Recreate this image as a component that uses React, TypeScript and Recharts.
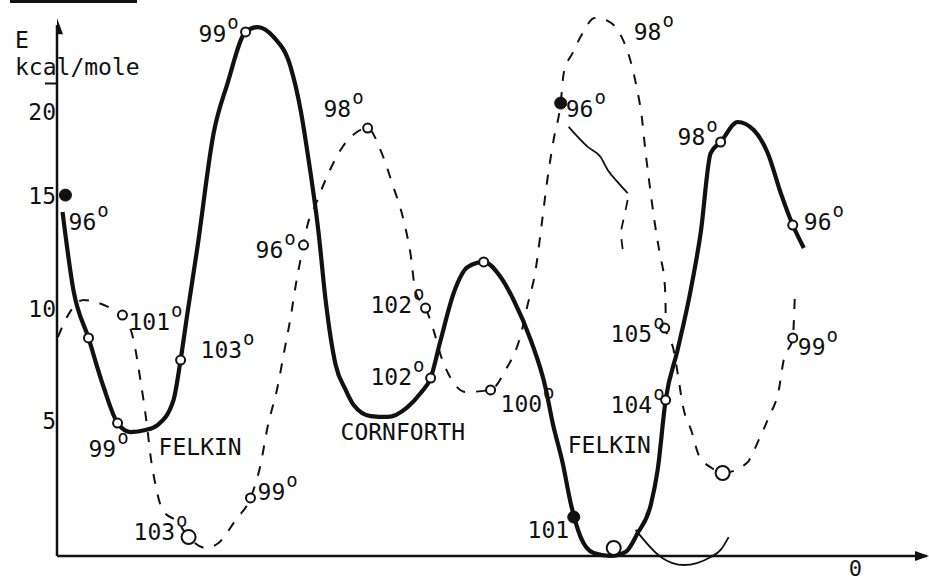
import React from "react";
import {
  ComposedChart,
  Line,
  Scatter,
  XAxis,
  YAxis,
  ReferenceLine,
} from "recharts";

// x = rotation angle (deg, 0 at the right), y = E (kcal/mole)
const solidCurve: [number, number][] = [
  [357.5, 14.29], [352.6, 10.82], [345.8, 8.69], [339.0, 6.51], [332.7, 4.91],
  [326.9, 4.51], [320.1, 4.6], [314.7, 4.82], [307.5, 5.93], [304.3, 7.71],
  [301.2, 9.8], [296.7, 12.73], [289.4, 17.8], [283.1, 20.02], [275.0, 22.29],
  [269.6, 22.51], [262.4, 22.07], [254.7, 20.73], [250.2, 18.82], [246.6, 16.6],
  [242.1, 13.36], [238.95, 10.38], [234.4, 7.49], [229.9, 6.38], [226.3, 5.71],
  [218.7, 5.22], [211.0, 5.18], [202.0, 5.62], [196.1, 6.24], [191.6, 6.91],
  [187.1, 8.6], [181.2, 10.69], [174.9, 11.84], [167.7, 12.07], [160.1, 11.4],
  [154.2, 10.38], [146.5, 8.6], [139.8, 6.47], [136.6, 4.91], [132.1, 3.13],
  [128.5, 1.36], [124.0, -0.16], [118.1, -0.87], [110.5, -1.0], [103.7, -0.82],
  [98.3, 0.02], [92.4, 1.27], [89.3, 2.82], [85.7, 5.93], [80.3, 8.16],
  [74.4, 10.82], [69.9, 13.36], [65.4, 16.91], [60.9, 17.4], [53.2, 18.29],
  [46.0, 17.93], [39.7, 16.91], [33.8, 15.13], [28.4, 13.71], [23.4, 12.69],
];

const dashedCurve: [number, number][] = [
  [359.6, 8.73], [354.2, 9.84], [348.1, 10.38], [342.7, 10.29], [335.9, 10.02],
  [330.5, 9.71], [325.5, 8.6], [322.4, 6.82], [319.2, 4.6], [317.9, 3.49],
  [315.6, 2.16], [312.4, 1.04], [305.7, 0.51], [300.7, -0.16], [293.1, -0.64],
  [287.2, -0.42], [279.5, 0.6], [272.8, 1.58], [268.3, 3.04], [265.1, 4.73],
  [260.6, 6.51], [257.9, 7.93], [254.7, 9.62], [252.0, 11.27], [248.9, 12.82],
  [247.1, 13.71], [243.5, 14.6], [239.0, 15.71], [231.3, 17.18], [225.4, 17.8],
  [220.0, 18.02], [214.2, 17.04], [208.7, 15.49], [203.8, 13.93], [200.6, 12.38],
  [198.4, 10.73], [193.9, 10.02], [190.3, 9.04], [187.1, 7.93], [182.6, 6.91],
  [175.8, 6.29], [164.6, 6.38], [157.8, 7.27], [151.0, 8.82], [147.9, 10.16],
  [144.3, 11.71], [141.6, 13.71], [138.9, 15.8], [136.2, 17.49], [133.0, 19.13],
  [131.6, 20.47], [127.6, 21.36], [123.1, 22.24], [117.7, 22.91], [111.8, 22.78],
  [106.0, 22.16], [101.4, 20.96], [98.7, 19.8], [96.5, 18.56], [94.7, 16.91],
  [92.9, 15.49], [90.6, 13.8], [88.4, 12.47], [86.1, 11.09], [85.7, 9.93],
  [85.7, 9.13], [82.1, 8.16], [79.8, 6.82], [78.0, 5.71], [73.9, 4.51],
  [70.8, 3.49], [64.9, 2.91], [60.0, 2.69], [49.1, 3.13], [43.7, 4.16],
  [39.2, 5.18], [34.7, 6.38], [32.5, 7.71], [28.4, 8.69], [27.5, 10.47],
];

const thinBranch: [number, number][] = [
  [129.4, 18.07], [120.8, 17.18], [115.0, 16.73], [111.8, 16.16], [107.3, 15.62], [102.8, 15.13],
];
const thinBranchDashed: [number, number][] = [
  [102.8, 14.82], [106.0, 13.36], [104.6, 12.29],
];
const bottomBranch: [number, number][] = [
  [99.2, 0.16], [87.9, -1.04], [77.5, -1.4], [65.4, -1.04], [60.9, -0.73], [57.3, -0.16],
];

const solidOpenPts: [number, number][] = [
  [345.8, 8.69], [332.7, 4.91], [304.3, 7.71], [275.0, 22.29], [191.6, 6.91],
  [167.7, 12.07], [85.7, 5.93], [60.9, 17.4], [28.4, 13.71],
];
const bigOpenPts: [number, number][] = [[109.1, -0.64], [300.7, -0.16], [60.0, 2.69]];
const dashedOpenPts: [number, number][] = [
  [330.5, 9.71], [272.8, 1.58], [248.9, 12.82], [220.0, 18.02], [193.9, 10.02],
  [164.6, 6.38], [86.1, 9.13], [28.4, 8.69],
];
const filledPts: [number, number][] = [[356.2, 15.04], [127.1, 0.73], [133.0, 19.13]];

// [x, E, text, superscript degree]
const labels: [number, number, string, boolean][] = [
  [354.8, 13.49, "96", true],
  [327.8, 9.04, "101", true],
  [295.3, 7.8, "103", true],
  [345.8, 3.4, "99", true],
  [314.2, 3.49, "FELKIN", false],
  [325.5, -0.29, "103", true],
  [269.6, 1.49, "99", true],
  [296.2, 21.84, "99", true],
  [239.9, 18.51, "98", true],
  [270.5, 12.24, "96", true],
  [218.7, 9.8, "102", true],
  [218.7, 6.6, "102", true],
  [232.2, 4.16, "CORNFORTH", false],
  [160.1, 5.4, "100", true],
  [129.8, 3.58, "FELKIN", false],
  [147.9, -0.2, "101", false],
  [130.7, 18.51, "96", true],
  [100.1, 21.93, "98", true],
  [80.3, 17.27, "98", true],
  [23.4, 13.49, "96", true],
  [110.5, 8.51, "105", true],
  [110.5, 5.36, "104", true],
  [26.1, 7.93, "99", true],
  [3.2, -1.9, "0", false],
];

const yTicks = [5, 10, 15, 20];

const toPts = (a: [number, number][]) => a.map(([x, y]) => ({ x, y }));
const labelData = labels.map(([x, y, text, sup]) => ({ x, y, text, sup }));

const FONT = "'DejaVu Sans Mono', monospace";
const INK = "#111";

const YTick = (props: any) => {
  const { y, payload } = props;
  const v = payload.value;
  const dy = v === 20 ? 36 : 8;
  return (
    <g>
      {v === 20 && <line x1={45} x2={57} y1={y} y2={y} stroke={INK} strokeWidth={2} />}
      <text x={56} y={y + dy} textAnchor="end" fontFamily={FONT} fontSize={23} fill={INK}>
        {v}
      </text>
    </g>
  );
};

const LabelShape = (props: any) => {
  const { cx, cy, payload } = props;
  return (
    <text x={cx} y={cy} fontFamily={FONT} fontSize={payload.text === "0" ? 22 : 23} fill={INK}>
      {payload.text}
      {payload.sup && (
        <tspan dx={1} dy={-13} fontSize={19}>
          o
        </tspan>
      )}
    </text>
  );
};

const OpenDot = (r: number) => (props: any) => (
  <circle cx={props.cx} cy={props.cy} r={r} fill="#fff" stroke={INK} strokeWidth={2} />
);
const FilledDot = (props: any) => (
  <circle cx={props.cx} cy={props.cy} r={6} fill={INK} stroke={INK} />
);
const UpArrow = (props: any) => (
  <path d={`M${props.cx},${props.cy} l-6,16 l12,0 z`} fill={INK} />
);
const RightArrow = (props: any) => (
  <path d={`M${props.cx},${props.cy} l-14,-5 l0,10 z`} fill={INK} />
);

const AxisTitle = () => (
  <g>
    <line x1={10} x2={137} y1={1.5} y2={1.5} stroke={INK} strokeWidth={3} />
    <text x={15} y={48} fontFamily={FONT} fontSize={23} fill={INK}>E</text>
    <text x={15} y={75} fontFamily={FONT} fontSize={23} fill={INK}>kcal/mole</text>
  </g>
);

export default function App() {
  return (
    <div style={{ position: "absolute", left: 0, top: 0, width: 929, height: 583, background: "#fff" }}>
      <ComposedChart width={929} height={583} margin={{ top: 16, right: 0, bottom: 0, left: 0 }}>
        <XAxis
          type="number"
          dataKey="x"
          domain={[-33, 360]}
          reversed
          hide
          allowDataOverflow
        />
        <YAxis
          type="number"
          domain={[-2.2, 23]}
          ticks={yTicks}
          width={57}
          axisLine={false}
          tickLine={false}
          tick={<YTick />}
          allowDataOverflow
          label={{ content: () => <AxisTitle /> }}
        />
        <ReferenceLine
          segment={[{ x: 360, y: -1 }, { x: 360, y: 22.6 }]}
          stroke={INK}
          strokeWidth={2.5}
          ifOverflow="visible"
        />
        <ReferenceLine
          segment={[{ x: 360, y: -1 }, { x: -32, y: -1 }]}
          stroke={INK}
          strokeWidth={2.5}
          ifOverflow="visible"
        />
        <Line
          data={toPts(dashedCurve)}
          dataKey="y"
          type="monotone"
          stroke={INK}
          strokeWidth={2}
          strokeDasharray="10 11"
          dot={false}
          activeDot={false}
          isAnimationActive={false}
        />
        <Line
          data={toPts(thinBranch)}
          dataKey="y"
          type="monotone"
          stroke={INK}
          strokeWidth={1.8}
          dot={false}
          activeDot={false}
          isAnimationActive={false}
        />
        <Line
          data={toPts(thinBranchDashed)}
          dataKey="y"
          type="linear"
          stroke={INK}
          strokeWidth={1.8}
          strokeDasharray="10 10"
          dot={false}
          activeDot={false}
          isAnimationActive={false}
        />
        <Line
          data={toPts(bottomBranch)}
          dataKey="y"
          type="monotone"
          stroke={INK}
          strokeWidth={1.8}
          dot={false}
          activeDot={false}
          isAnimationActive={false}
        />
        <Line
          data={toPts(solidCurve)}
          dataKey="y"
          type="monotone"
          stroke={INK}
          strokeWidth={4.2}
          dot={false}
          activeDot={false}
          isAnimationActive={false}
        />
        <Scatter data={toPts(solidOpenPts)} dataKey="y" shape={OpenDot(4.5)} isAnimationActive={false} />
        <Scatter data={toPts(dashedOpenPts)} dataKey="y" shape={OpenDot(4.5)} isAnimationActive={false} />
        <Scatter data={toPts(bigOpenPts)} dataKey="y" shape={OpenDot(7)} isAnimationActive={false} />
        <Scatter data={toPts(filledPts)} dataKey="y" shape={FilledDot} isAnimationActive={false} />
        <Scatter data={[{ x: 360, y: 22.9 }]} dataKey="y" shape={UpArrow} isAnimationActive={false} />
        <Scatter data={[{ x: -33, y: -1 }]} dataKey="y" shape={RightArrow} isAnimationActive={false} />
        <Scatter data={labelData} dataKey="y" shape={LabelShape} isAnimationActive={false} />
      </ComposedChart>
    </div>
  );
}
